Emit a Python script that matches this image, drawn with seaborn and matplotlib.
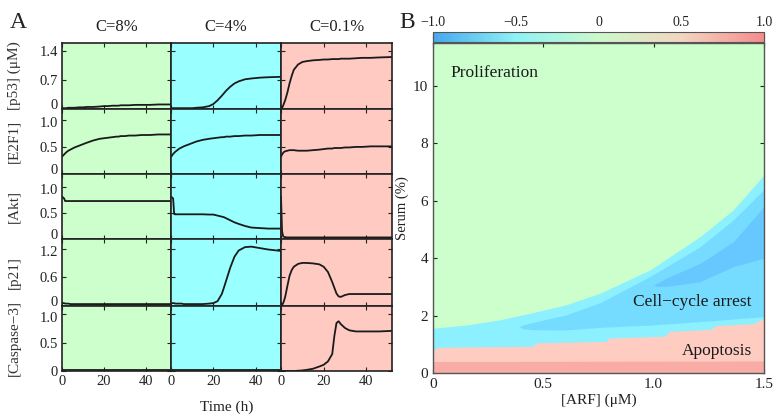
import matplotlib
matplotlib.use("Agg")
import matplotlib.pyplot as plt
import seaborn as sns
from matplotlib.colors import LinearSegmentedColormap, Normalize
from matplotlib.cm import ScalarMappable
from matplotlib.transforms import ScaledTranslation

# ---------------- Panel A data ----------------
T = [0, 0.5, 1, 1.5, 2, 3, 4, 5, 6, 8, 10, 12, 15, 18, 20, 22, 24, 25, 26, 27, 28, 30, 32, 35, 38, 42, 46, 52]

P53_8 = [0.02, 0.02, 0.02, 0.02, 0.02, 0.03, 0.03, 0.03, 0.03, 0.04, 0.04, 0.05, 0.05, 0.06, 0.07, 0.07, 0.08, 0.08, 0.08, 0.08, 0.09, 0.09, 0.09, 0.10, 0.10, 0.10, 0.11, 0.11]
P53_4 = [0.02, 0.02, 0.02, 0.02, 0.02, 0.02, 0.02, 0.02, 0.02, 0.02, 0.02, 0.03, 0.04, 0.07, 0.12, 0.21, 0.32, 0.38, 0.44, 0.49, 0.54, 0.62, 0.67, 0.72, 0.74, 0.76, 0.77, 0.78]
P53_01 = [0.0, 0.03, 0.08, 0.15, 0.22, 0.40, 0.62, 0.80, 0.95, 1.08, 1.14, 1.16, 1.18, 1.19, 1.20, 1.20, 1.21, 1.21, 1.21, 1.21, 1.22, 1.22, 1.22, 1.23, 1.24, 1.24, 1.25, 1.26]

E2F1_8 = [0.32, 0.34, 0.36, 0.38, 0.40, 0.43, 0.45, 0.47, 0.49, 0.52, 0.55, 0.58, 0.62, 0.65, 0.66, 0.67, 0.68, 0.685, 0.69, 0.69, 0.70, 0.70, 0.71, 0.71, 0.72, 0.72, 0.73, 0.73]
E2F1_4 = [0.32, 0.34, 0.37, 0.39, 0.41, 0.44, 0.47, 0.49, 0.51, 0.54, 0.57, 0.60, 0.63, 0.65, 0.66, 0.67, 0.68, 0.68, 0.69, 0.69, 0.69, 0.70, 0.70, 0.71, 0.71, 0.72, 0.72, 0.72]
E2F1_01 = [0.32, 0.36, 0.39, 0.41, 0.42, 0.43, 0.44, 0.44, 0.44, 0.43, 0.43, 0.43, 0.44, 0.45, 0.46, 0.47, 0.47, 0.48, 0.48, 0.48, 0.48, 0.49, 0.49, 0.50, 0.50, 0.51, 0.51, 0.51]

AKT_8 = [0.81, 0.80, 0.78, 0.73, 0.73, 0.73, 0.73, 0.73, 0.73, 0.73, 0.73, 0.73, 0.73, 0.73, 0.73, 0.73, 0.73, 0.73, 0.73, 0.73, 0.73, 0.73, 0.73, 0.73, 0.73, 0.73, 0.73, 0.73]
AKT_4 = [0.81, 0.80, 0.78, 0.48, 0.475, 0.475, 0.475, 0.475, 0.475, 0.475, 0.475, 0.475, 0.475, 0.47, 0.47, 0.45, 0.43, 0.42, 0.40, 0.38, 0.36, 0.32, 0.29, 0.25, 0.22, 0.21, 0.20, 0.20]
AKT_01 = [0.81, 0.15, 0.05, 0.04, 0.035, 0.03, 0.03, 0.03, 0.03, 0.03, 0.03, 0.03, 0.03, 0.03, 0.03, 0.03, 0.03, 0.03, 0.03, 0.03, 0.03, 0.03, 0.03, 0.03, 0.03, 0.03, 0.03, 0.03]

P21_8 = [0.06, 0.06, 0.06, 0.05, 0.05, 0.05, 0.04, 0.04, 0.04, 0.04, 0.04, 0.04, 0.04, 0.04, 0.04, 0.04, 0.04, 0.04, 0.04, 0.04, 0.04, 0.04, 0.04, 0.04, 0.04, 0.04, 0.04, 0.04]
P21_4 = [0.06, 0.06, 0.06, 0.06, 0.05, 0.05, 0.05, 0.05, 0.04, 0.04, 0.04, 0.04, 0.04, 0.05, 0.06, 0.10, 0.25, 0.38, 0.52, 0.66, 0.80, 1.03, 1.16, 1.23, 1.24, 1.21, 1.18, 1.15]
P21_01 = [0.0, 0.02, 0.06, 0.12, 0.20, 0.42, 0.63, 0.75, 0.82, 0.88, 0.90, 0.90, 0.89, 0.87, 0.82, 0.71, 0.50, 0.38, 0.26, 0.20, 0.19, 0.23, 0.25, 0.25, 0.25, 0.25, 0.25, 0.25]

CASP_8 = [0.01] * len(T)
CASP_4 = [0.01] * len(T)
CASP_01 = [0.0, 0.0, 0.0, 0.0, 0.0, 0.0, 0.0, 0.0, 0.0, 0.005, 0.01, 0.02, 0.04, 0.08, 0.11, 0.17, 0.30, 0.62, 0.85, 0.88, 0.83, 0.76, 0.72, 0.70, 0.70, 0.70, 0.70, 0.71]

ROW_LABELS = ["[p53] (\u03bcM)", "[E2F1]", "[Akt]", "[p21]", "[Caspase\u22123]"]
ROW_YLIM = [1.6, 1.2, 1.25, 1.4, 1.15]
ROW_TICKS = [[0, 0.7, 1.4], [0, 0.5, 1.0], [0, 0.5, 1.0], [0, 0.6, 1.2], [0, 0.5, 1.0]]
ROW_TICKLABELS = [["0", "0.7", "1.4"], ["0", "0.5", "1.0"], ["0", "0.5", "1.0"], ["0", "0.6", "1.2"], ["0", "0.5", "1.0"]]
COL_TITLES = ["C=8%", "C=4%", "C=0.1%"]
COL_COLORS = ["#CCFFCC", "#99FFFF", "#FFCAC2"]
TIME_TICKS = [0, 20, 40]

SERIES = [
    [P53_8, P53_4, P53_01],
    [E2F1_8, E2F1_4, E2F1_01],
    [AKT_8, AKT_4, AKT_01],
    [P21_8, P21_4, P21_01],
    [CASP_8, CASP_4, CASP_01],
]

# ---------------- Panel B data ----------------
ARF_GREEN = [0, 0.15, 0.30, 0.45, 0.60, 0.757, 0.983, 1.21, 1.36, 1.5]
SERUM_GREEN = [1.56, 1.67, 1.85, 2.10, 2.37, 2.78, 3.59, 4.75, 5.68, 6.9]

ARF_MED = [0.39, 0.41, 0.45, 0.60, 0.757, 0.983, 1.21, 1.36, 1.5]
SERUM_MED_LO = [1.6, 1.54, 1.51, 1.50, 1.59, 1.67, 1.79, 1.88, 1.96]
SERUM_MED_HI = [1.6, 1.68, 1.76, 2.02, 2.45, 3.36, 4.40, 5.33, 6.40]

ARF_DARK = [0.998, 1.02, 1.06, 1.21, 1.36, 1.5]
SERUM_DARK_LO = [3.07, 3.02, 3.02, 3.18, 3.70, 4.0]
SERUM_DARK_HI = [3.07, 3.15, 3.32, 3.82, 4.57, 5.8]

ARF_APOP = [0, 0.03, 0.45, 0.47, 0.78, 0.80, 1.05, 1.07, 1.26, 1.28, 1.45, 1.5]
SERUM_APOP = [0.82, 0.90, 0.93, 1.05, 1.10, 1.22, 1.28, 1.45, 1.52, 1.65, 1.72, 1.90]

ARF_DPINK = [0, 1.5]
SERUM_DPINK = [0.40, 0.42]

CB_TICKS = [-1.0, -0.5, 0, 0.5, 1.0]
CB_LABELS = ["\u22121.0", "\u22120.5", "0", "0.5", "1.0"]

# ---------------- style ----------------
sns.set_theme(style="ticks")
plt.rcParams["font.family"] = ["Liberation Serif", "DejaVu Serif"]
plt.rcParams["axes.unicode_minus"] = True

W, H = 776, 419
fig = plt.figure(figsize=(W / 100, H / 100), dpi=100)


def ax_px(l, t, r, b):
    return fig.add_axes([l / W, 1 - b / H, (r - l) / W, (b - t) / H])


ROW_T = [43, 109, 174, 239, 306]
ROW_B = [109, 174, 239, 306, 371]
COL_L = [62, 171, 281]
COL_R = [171, 281, 392]

for r in range(5):
    for c in range(3):
        ax = ax_px(COL_L[c], ROW_T[r], COL_R[c], ROW_B[r])
        ax.set_facecolor(COL_COLORS[c])
        sns.lineplot(x=T, y=SERIES[r][c], ax=ax, color="#1a1a1a", linewidth=1.3)
        ax.set_xlim(0, 52)
        ax.set_ylim(0, ROW_YLIM[r])
        ax.set_xticks(TIME_TICKS)
        ax.set_yticks(ROW_TICKS[r])
        ax.tick_params(direction="in", length=3, width=0.8, top=True, right=True,
                       labelsize=10.5, pad=3, colors="#222222")
        if c == 0:
            ax.set_yticklabels(ROW_TICKLABELS[r])
            ax.set_ylabel(ROW_LABELS[r], fontsize=11, color="#333333")
            ax.yaxis.set_label_coords(-0.38, 0.5)
            labs = ax.get_yticklabels()
            if r < 4:
                labs[0].set_transform(labs[0].get_transform() +
                                      ScaledTranslation(0, 3.5 / 72, fig.dpi_scale_trans))
            if r > 0:
                labs[-1].set_transform(labs[-1].get_transform() +
                                       ScaledTranslation(0, -1.5 / 72, fig.dpi_scale_trans))
        else:
            ax.set_yticklabels([])
            ax.set_ylabel("")
        if r == 4:
            ax.set_xticklabels([str(v) for v in TIME_TICKS])
        else:
            ax.set_xticklabels([])
        ax.set_xlabel("")
        for s in ax.spines.values():
            s.set_linewidth(1.2)
            s.set_color("#222222")

for c in range(3):
    fig.text((COL_L[c] + COL_R[c]) / 2 / W, 1 - 27 / H, COL_TITLES[c],
             ha="center", va="center", fontsize=12, color="#222222")

fig.text(227 / W, 1 - 407 / H, "Time (h)", ha="center", va="center", fontsize=11, color="#222222")
fig.text(10 / W, 1 - 22 / H, "A", ha="left", va="center", fontsize=17, color="#222222")
fig.text(399 / W, 1 - 22 / H, "B", ha="left", va="center", fontsize=17, color="#222222")

# ---------------- Panel B ----------------
axb = ax_px(433, 43, 764, 373)
axb.set_facecolor("#CCFFCC")
axb.fill_between(ARF_GREEN, 0, SERUM_GREEN, color="#8CF0FF", lw=0)
axb.fill_between(ARF_MED, SERUM_MED_LO, SERUM_MED_HI, color="#76DCFF", lw=0)
axb.fill_between(ARF_DARK, SERUM_DARK_LO, SERUM_DARK_HI, color="#66C8FF", lw=0)
axb.fill_between(ARF_APOP, 0, SERUM_APOP, color="#FFCCC2", lw=0)
axb.fill_between(ARF_DPINK, 0, SERUM_DPINK, color="#F9ACA6", lw=0)
axb.set_xlim(0, 1.5)
axb.set_ylim(0, 11.5)
axb.set_xticks([0, 0.5, 1.0, 1.5])
axb.set_xticklabels(["0", "0.5", "1.0", "1.5"])
axb.set_yticks([0, 2, 4, 6, 8, 10])
axb.tick_params(direction="in", length=3, width=0.8, top=True, right=True,
                labelsize=11, colors="#222222")
axb.set_xlabel("[ARF] (\u03bcM)", fontsize=11, color="#222222", labelpad=2)
axb.set_ylabel("Serum (%)", fontsize=10.5, color="#222222")
axb.yaxis.set_label_coords(-0.072, 0.5)
for s in axb.spines.values():
    s.set_linewidth(1.0)
    s.set_color("#555555")

axb.text(0.077, 10.45, "Proliferation", fontsize=12.5, ha="left", va="center", color="#1a1a1a")
axb.text(1.445, 2.47, "Cell\u2212cycle arrest", fontsize=12.5, ha="right", va="center", color="#1a1a1a")
axb.text(1.445, 0.77, "Apoptosis", fontsize=12.5, ha="right", va="center", color="#1a1a1a")

cax = ax_px(433, 32, 764, 42)
cmap = LinearSegmentedColormap.from_list(
    "cb", [(0, "#46A8EE"), (0.25, "#8EF2F6"), (0.5, "#CCF8CC"), (0.75, "#F2D6C2"), (1, "#F58C8C")])
cb = fig.colorbar(ScalarMappable(norm=Normalize(-1, 1), cmap=cmap), cax=cax,
                  orientation="horizontal", ticks=CB_TICKS)
cax.xaxis.set_ticks_position("top")
cax.xaxis.set_label_position("top")
cb.set_ticklabels(CB_LABELS)
cax.tick_params(direction="in", length=4, width=0.8, labelsize=10, pad=2,
                colors="#222222", top=True, bottom=True)
cb.outline.set_linewidth(0.8)
cb.outline.set_edgecolor("#555555")

fig.savefig("out.png", dpi=100)
